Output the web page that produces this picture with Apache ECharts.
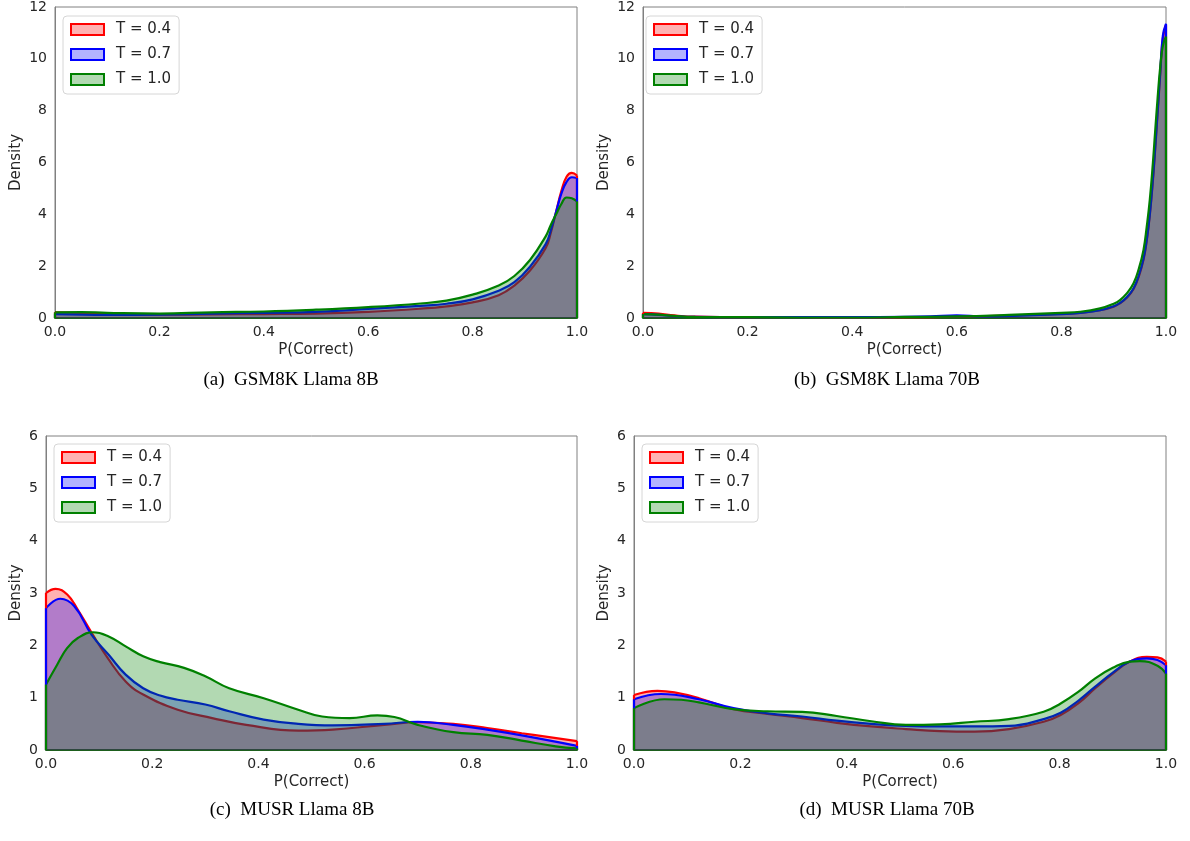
<!DOCTYPE html>
<html>
<head>
<meta charset="utf-8">
<script src="https://cdn.jsdelivr.net/npm/echarts@6/dist/echarts.min.js"></script>
<style>
html,body{margin:0;padding:0;background:#fff;}
#chart{width:1190px;height:841px;}
</style>
</head>
<body>
<div id="chart"></div>
<script>
// ---- Data ----
const SERIES_NAMES = ['T = 0.4', 'T = 0.7', 'T = 1.0'];
const X_TICKS = [0, 0.2, 0.4, 0.6, 0.8, 1.0];
const PANEL_TITLES = ['(a)  GSM8K Llama 8B', '(b)  GSM8K Llama 70B', '(c)  MUSR Llama 8B', '(d)  MUSR Llama 70B'];
const Y_MAX = [12, 12, 6, 6];
const Y_INTERVAL = [2, 2, 1, 1];

// (a) GSM8K Llama 8B
const a_T04 = [[0,0.22],[0.05,0.2],[0.1,0.15],[0.2,0.13],[0.3,0.14],[0.4,0.15],[0.5,0.17],[0.6,0.24],[0.7,0.36],[0.75,0.45],[0.8,0.6],[0.85,0.88],[0.88,1.25],[0.91,1.83],[0.94,2.7],[0.95,3.3],[0.96,4.1],[0.97,4.9],[0.98,5.45],[0.99,5.6],[1.0,5.5]];
const a_T07 = [[0,0.15],[0.1,0.12],[0.2,0.13],[0.3,0.17],[0.4,0.2],[0.5,0.24],[0.6,0.35],[0.7,0.47],[0.75,0.55],[0.8,0.72],[0.85,1.05],[0.88,1.38],[0.91,1.98],[0.94,2.85],[0.95,3.4],[0.96,4.1],[0.97,4.8],[0.98,5.25],[0.99,5.43],[1.0,5.4]];
const a_T10 = [[0,0.22],[0.05,0.23],[0.1,0.2],[0.2,0.17],[0.3,0.22],[0.4,0.25],[0.5,0.32],[0.6,0.42],[0.7,0.56],[0.75,0.67],[0.8,0.9],[0.85,1.25],[0.88,1.62],[0.91,2.24],[0.94,3.15],[0.95,3.6],[0.96,4.0],[0.97,4.4],[0.98,4.65],[0.99,4.62],[1.0,4.5]];

// (b) GSM8K Llama 70B
const b_T04 = [[0,0.2],[0.03,0.17],[0.06,0.1],[0.1,0.05],[0.2,0.03],[0.3,0.03],[0.4,0.02],[0.5,0.03],[0.6,0.05],[0.7,0.09],[0.8,0.16],[0.836,0.2],[0.874,0.3],[0.9,0.44],[0.912,0.57],[0.925,0.78],[0.938,1.12],[0.948,1.6],[0.957,2.25],[0.963,2.95],[0.969,3.95],[0.975,5.3],[0.979,6.4],[0.984,7.9],[0.989,9.4],[0.994,10.8],[1.0,11.3]];
const b_T07 = [[0,0.15],[0.03,0.12],[0.06,0.07],[0.1,0.04],[0.2,0.03],[0.3,0.03],[0.4,0.03],[0.5,0.04],[0.55,0.06],[0.6,0.1],[0.65,0.06],[0.7,0.08],[0.8,0.15],[0.836,0.2],[0.874,0.3],[0.9,0.45],[0.912,0.58],[0.925,0.8],[0.938,1.15],[0.948,1.65],[0.957,2.3],[0.963,3.0],[0.969,4.0],[0.975,5.4],[0.979,6.5],[0.984,8.0],[0.989,9.5],[0.994,10.9],[1.0,11.35]];
const b_T10 = [[0,0.15],[0.03,0.13],[0.06,0.08],[0.1,0.04],[0.2,0.03],[0.3,0.02],[0.4,0.02],[0.5,0.04],[0.6,0.06],[0.7,0.12],[0.8,0.2],[0.836,0.24],[0.874,0.37],[0.9,0.55],[0.912,0.69],[0.925,0.95],[0.938,1.34],[0.948,1.9],[0.957,2.63],[0.963,3.5],[0.969,4.56],[0.975,6.0],[0.979,7.13],[0.984,8.5],[0.989,9.7],[0.994,10.5],[1.0,10.86]];

// (c) MUSR Llama 8B
const c_T04 = [[0,3.0],[0.018,3.08],[0.04,2.97],[0.06,2.68],[0.086,2.24],[0.118,1.73],[0.15,1.31],[0.183,1.06],[0.248,0.77],[0.313,0.61],[0.377,0.48],[0.475,0.37],[0.54,0.39],[0.637,0.48],[0.70,0.53],[0.767,0.5],[0.831,0.42],[0.896,0.32],[1.0,0.17]];
const c_T07 = [[0,2.71],[0.027,2.89],[0.053,2.75],[0.086,2.2],[0.118,1.82],[0.15,1.44],[0.183,1.18],[0.215,1.04],[0.248,0.96],[0.30,0.87],[0.345,0.74],[0.41,0.58],[0.475,0.5],[0.54,0.47],[0.637,0.5],[0.70,0.54],[0.767,0.48],[0.831,0.39],[0.896,0.28],[1.0,0.08]];
const c_T10 = [[0,1.25],[0.021,1.63],[0.04,1.95],[0.06,2.14],[0.089,2.25],[0.118,2.17],[0.15,1.98],[0.183,1.79],[0.215,1.68],[0.26,1.57],[0.30,1.41],[0.345,1.18],[0.41,0.99],[0.475,0.77],[0.52,0.64],[0.572,0.61],[0.624,0.66],[0.656,0.63],[0.70,0.48],[0.767,0.34],[0.831,0.29],[0.896,0.18],[0.96,0.07],[1.0,0.03]];

// (d) MUSR Llama 70B
const d_T04 = [[0,1.05],[0.044,1.13],[0.076,1.1],[0.122,0.99],[0.187,0.78],[0.251,0.69],[0.316,0.61],[0.381,0.52],[0.446,0.45],[0.511,0.4],[0.575,0.36],[0.64,0.35],[0.705,0.4],[0.77,0.54],[0.802,0.67],[0.835,0.89],[0.867,1.18],[0.9,1.46],[0.932,1.69],[0.964,1.78],[0.984,1.77],[1.0,1.69]];
const d_T07 = [[0,0.97],[0.051,1.07],[0.122,0.97],[0.187,0.8],[0.251,0.7],[0.316,0.64],[0.381,0.56],[0.446,0.5],[0.511,0.46],[0.575,0.45],[0.64,0.45],[0.705,0.46],[0.77,0.59],[0.802,0.71],[0.835,0.94],[0.867,1.21],[0.9,1.48],[0.932,1.69],[0.964,1.75],[0.984,1.72],[1.0,1.62]];
const d_T10 = [[0,0.8],[0.057,0.97],[0.089,0.96],[0.122,0.91],[0.187,0.78],[0.251,0.74],[0.316,0.73],[0.381,0.65],[0.446,0.55],[0.511,0.48],[0.575,0.49],[0.64,0.54],[0.705,0.59],[0.77,0.73],[0.802,0.89],[0.835,1.11],[0.867,1.37],[0.9,1.57],[0.932,1.69],[0.951,1.7],[0.984,1.61],[1.0,1.46]];

const PANELS = [[a_T04, a_T07, a_T10], [b_T04, b_T07, b_T10], [c_T04, c_T07, c_T10], [d_T04, d_T07, d_T10]];

// ---- Styling / layout ----
const COLORS = ['#ff0000', '#0000ff', '#008000'];
const FILLS = ['rgba(255,0,0,0.3)', 'rgba(0,0,255,0.3)', 'rgba(0,128,0,0.3)'];
const GRIDS = [
  {left: 55, top: 7, width: 522, height: 311},
  {left: 643, top: 7, width: 523, height: 311},
  {left: 46, top: 436, width: 531, height: 314},
  {left: 634, top: 436, width: 532, height: 314}
];
const NAME_GAPS = [31, 31, 22, 22];
const LEGEND_POS = [{left: 63, top: 16}, {left: 646, top: 16}, {left: 54, top: 444}, {left: 642, top: 444}];
const CAPTIONS = [{x: 291, y: 380}, {x: 887, y: 380}, {x: 292, y: 810}, {x: 887, y: 810}];
const FONT = 'DejaVu Sans';
const TXT = '#262626';

const grid = [], xAxis = [], yAxis = [], series = [], legend = [], graphic = [];
PANELS.forEach((panel, i) => {
  grid.push(Object.assign({show: true, borderColor: '#808080', borderWidth: 1, backgroundColor: '#fff'}, GRIDS[i]));
  xAxis.push({
    type: 'value', gridIndex: i, min: 0, max: 1, interval: 0.2,
    name: 'P(Correct)', nameLocation: 'middle', nameGap: 25,
    nameTextStyle: {fontFamily: FONT, fontSize: 15, color: TXT},
    axisLine: {show: true, lineStyle: {color: '#1d5f1d', width: 2}},
    axisTick: {show: false}, splitLine: {show: false},
    axisLabel: {fontFamily: FONT, fontSize: 14, color: TXT, margin: 7,
      formatter: v => v.toFixed(1)}
  });
  yAxis.push({
    type: 'value', gridIndex: i, min: 0, max: Y_MAX[i], interval: Y_INTERVAL[i],
    name: 'Density', nameLocation: 'middle', nameGap: NAME_GAPS[i],
    nameTextStyle: {fontFamily: FONT, fontSize: 15, color: TXT},
    axisLine: {show: true, lineStyle: {color: '#808080', width: 1}},
    axisTick: {show: false}, splitLine: {show: false},
    axisLabel: {fontFamily: FONT, fontSize: 14, color: TXT, margin: 8}
  });
  panel.forEach((pts, k) => {
    const first = pts[0], last = pts[pts.length - 1];
    series.push({
      type: 'line', name: SERIES_NAMES[k], xAxisIndex: i, yAxisIndex: i,
      data: pts, smooth: 0.45, symbol: 'none',
      lineStyle: {color: COLORS[k], width: 2.2},
      itemStyle: {color: COLORS[k]},
      areaStyle: {color: FILLS[k], opacity: 1},
      z: 2 + k,
      markLine: {
        silent: true, symbol: 'none', label: {show: false}, z: 5 + k,
        lineStyle: {color: COLORS[k], width: 2.2, type: 'solid'},
        emphasis: {disabled: true},
        data: [
          [{coord: [first[0], 0]}, {coord: [first[0], first[1]]}],
          [{coord: [last[0], 0]}, {coord: [last[0], last[1]]}]
        ]
      }
    });
  });
  legend.push(Object.assign({
    orient: 'vertical', itemWidth: 33, itemHeight: 11, itemGap: 10,
    padding: [6, 8, 7, 7], backgroundColor: '#fff', borderColor: '#d6d6d6', borderWidth: 1, borderRadius: 4,
    icon: 'rect', selectedMode: false,
    textStyle: {fontFamily: FONT, fontSize: 15, color: TXT, padding: [0, 0, 0, 7]},
    data: SERIES_NAMES.map((n, k) => ({name: n, itemStyle: {color: FILLS[k], borderColor: COLORS[k], borderWidth: 2}, lineStyle: {color: COLORS[k], width: 0}}))
  }, LEGEND_POS[i]));
  graphic.push({
    type: 'text', x: CAPTIONS[i].x, y: CAPTIONS[i].y,
    style: {text: PANEL_TITLES[i], fill: '#000', font: '19px "Liberation Serif", "Times New Roman", serif',
      textAlign: 'center', textVerticalAlign: 'middle'}
  });
});

const chart = echarts.init(document.getElementById('chart'), null, {renderer: 'canvas'});
chart.setOption({
  animation: false,
  backgroundColor: '#fff',
  grid, xAxis, yAxis, series, legend, graphic
});
</script>
</body>
</html>
